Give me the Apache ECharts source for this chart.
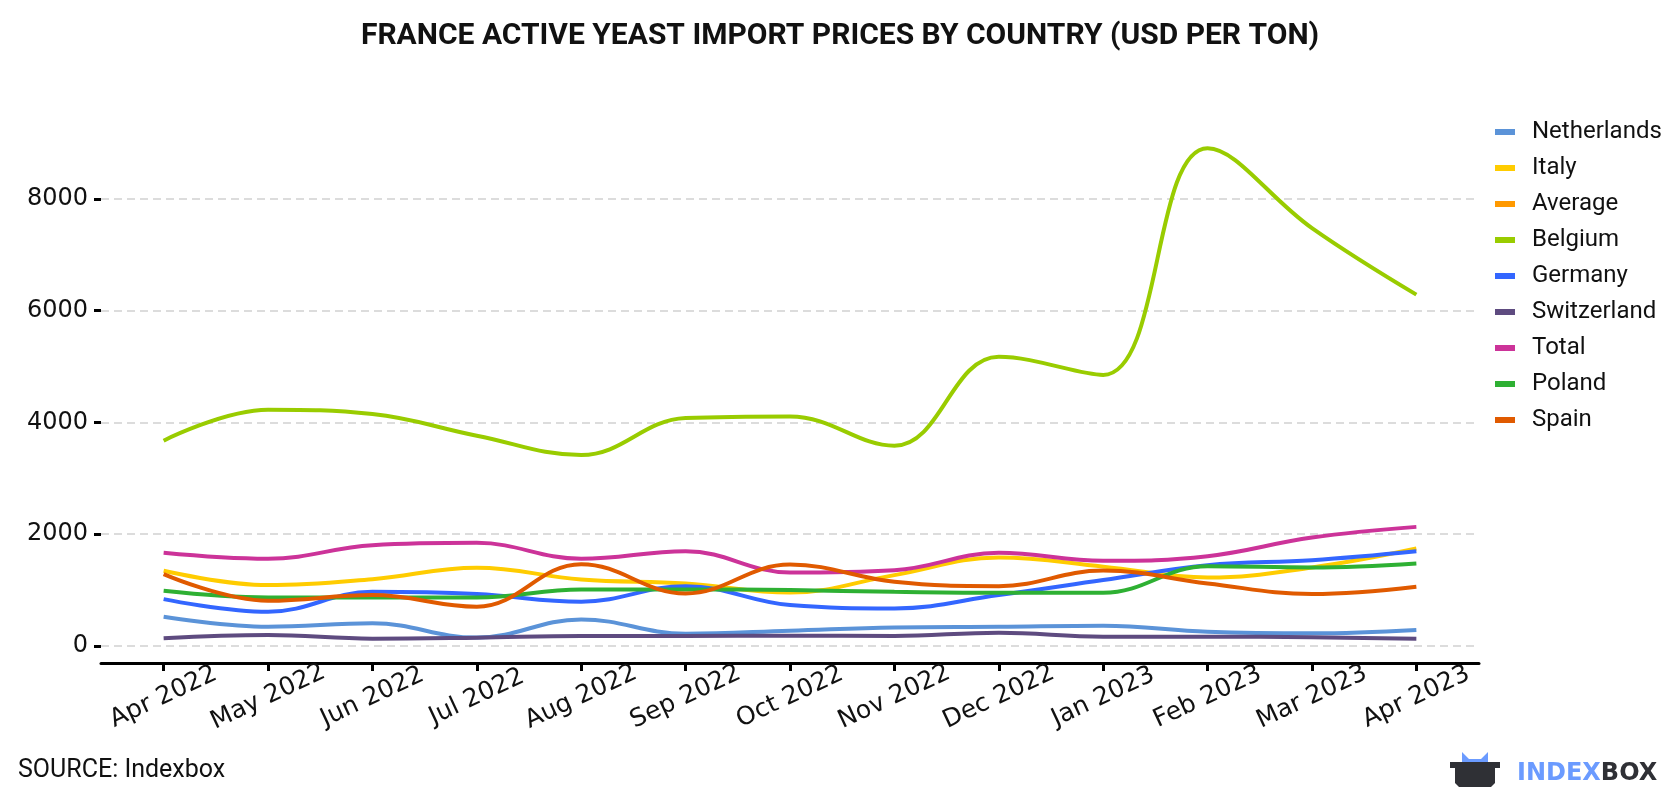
<!DOCTYPE html>
<html>
<head>
<meta charset="utf-8">
<title>France Active Yeast Import Prices by Country</title>
<script src="https://cdn.jsdelivr.net/npm/echarts/dist/echarts.min.js"></script>
<style>
    html, body { margin: 0; padding: 0; background: #fff; }
    #chart { width: 1680px; height: 800px; }
</style>
</head>
<body>
<div id="chart"></div>
<script>
// months on the x axis
var months = ['Apr 2022', 'May 2022', 'Jun 2022', 'Jul 2022', 'Aug 2022', 'Sep 2022', 'Oct 2022',
    'Nov 2022', 'Dec 2022', 'Jan 2023', 'Feb 2023', 'Mar 2023', 'Apr 2023'];
var yTicks = [0, 2000, 4000, 6000, 8000];

// USD per ton
var netherlands = [524, 345, 405, 150, 476, 220, 274, 333, 345, 363, 256, 226, 286];
var italy = [1345, 1089, 1196, 1399, 1190, 1119, 958, 1268, 1583, 1420, 1226, 1405, 1744];
var average = [];
var belgium = [3673, 4226, 4149, 3762, 3417, 4077, 4107, 3583, 5173, 4850, 8905, 7476, 6286];
var germany = [839, 613, 970, 929, 792, 1071, 732, 673, 911, 1180, 1446, 1536, 1696];
var switzerland = [137, 196, 131, 149, 179, 179, 185, 179, 238, 167, 167, 155, 131];
var total = [1667, 1560, 1803, 1845, 1560, 1696, 1315, 1357, 1667, 1524, 1607, 1940, 2131];
var poland = [988, 869, 869, 869, 1012, 1012, 1000, 970, 952, 952, 1428, 1405, 1476];
var spain = [1286, 810, 911, 702, 1464, 940, 1458, 1149, 1071, 1350, 1119, 929, 1059];

var seriesNames = ['Netherlands', 'Italy', 'Average', 'Belgium', 'Germany', 'Switzerland', 'Total', 'Poland', 'Spain'];
var seriesData = [netherlands, italy, average, belgium, germany, switzerland, total, poland, spain];
var colors = ['#5b93d8', '#ffcc00', '#ff9900', '#99cc00', '#3366ff', '#5e4b80', '#cc3399', '#2eb033', '#e05a00'];

var chart = echarts.init(document.getElementById('chart'));

function toPoints(arr) {
    return arr.map(function (v, i) { return [i, v]; });
}

var monthIdx = months.map(function (m, i) { return i; });

var series = [];
for (var i = 0; i < seriesNames.length; i++) {
    series.push({
        name: seriesNames[i],
        type: 'line',
        smooth: 0.4,
        showSymbol: false,
        lineStyle: { width: 4 },
        data: toPoints(seriesData[i])
    });
}

var option = {
    animation: false,
    color: colors,
    title: {
        text: 'FRANCE ACTIVE YEAST IMPORT PRICES BY COUNTRY (USD PER TON)',
        left: 'center',
        top: 16,
        textStyle: {
            fontFamily: 'Roboto',
            fontWeight: 'bold',
            fontSize: 30,
            color: '#111'
        }
    },
    legend: {
        orient: 'vertical',
        left: 1490,
        top: 114,
        icon: 'rect',
        itemWidth: 20,
        itemHeight: 6,
        itemGap: 10,
        data: seriesNames,
        textStyle: {
            fontFamily: 'Roboto',
            fontSize: 24,
            lineHeight: 26,
            color: '#111',
            padding: [0, 0, 0, 12]
        }
    },
    grid: {
        left: 101,
        right: 201,
        top: 87,
        bottom: 154
    },
    xAxis: {
        type: 'value',
        min: -0.6,
        max: 12.6,
        offset: 17,
        splitLine: { show: false },
        axisLine: { show: true, onZero: false, lineStyle: { color: '#000', width: 3 } },
        axisTick: {
            show: true,
            customValues: monthIdx,
            length: 8,
            lineStyle: { color: '#000', width: 3 }
        },
        axisLabel: {
            customValues: monthIdx,
            formatter: function (v) { return months[Math.round(v)]; },
            rotate: 25,
            align: 'center',
            verticalAlign: 'middle',
            margin: 34,
            fontFamily: 'DejaVu Sans',
            fontSize: 25,
            color: '#111'
        }
    },
    yAxis: {
        type: 'value',
        min: 0,
        max: 10000,
        interval: 2000,
        axisLine: { show: false, onZero: false },
        axisTick: {
            show: true,
            customValues: yTicks,
            length: 7,
            lineStyle: { color: '#000', width: 3 }
        },
        axisLabel: {
            customValues: yTicks,
            formatter: function (v) { return String(v); },
            margin: 13,
            fontFamily: 'DejaVu Sans',
            fontSize: 24,
            color: '#111'
        },
        splitLine: {
            show: true,
            lineStyle: { color: '#dcdcdc', width: 2, type: [8, 5] }
        }
    },
    graphic: [
        {
            type: 'text',
            left: 18,
            top: 758,
            style: { text: 'SOURCE: Indexbox', fontFamily: 'Roboto', fontSize: 25, fill: '#111' }
        },
        {
            // indexbox logo
            type: 'group',
            left: 1450,
            top: 752,
            children: [
                {
                    type: 'polygon',
                    shape: { points: [[12, 18], [12, 1], [19, 8], [31, 8], [38, 1], [38, 18]] },
                    style: { fill: '#6b9bff' }
                },
                {
                    type: 'polygon',
                    shape: { points: [[0, 11], [50, 11], [50, 17], [45, 17], [45, 32], [41, 36], [9, 36], [5, 32], [5, 17], [0, 17]] },
                    style: { fill: '#2f3035' }
                },
                {
                    type: 'text',
                    x: 67,
                    y: 23,
                    style: {
                        text: '{a|INDEX}{b|BOX}',
                        verticalAlign: 'middle',
                        rich: {
                            a: { fontFamily: 'DejaVu Sans', fontWeight: 'bold', fontSize: 24, fill: '#6b9bff' },
                            b: { fontFamily: 'DejaVu Sans', fontWeight: 'bold', fontSize: 24, fill: '#2f3035' }
                        }
                    }
                }
            ]
        }
    ],
    series: series
};

chart.setOption(option);
</script>
</body>
</html>
